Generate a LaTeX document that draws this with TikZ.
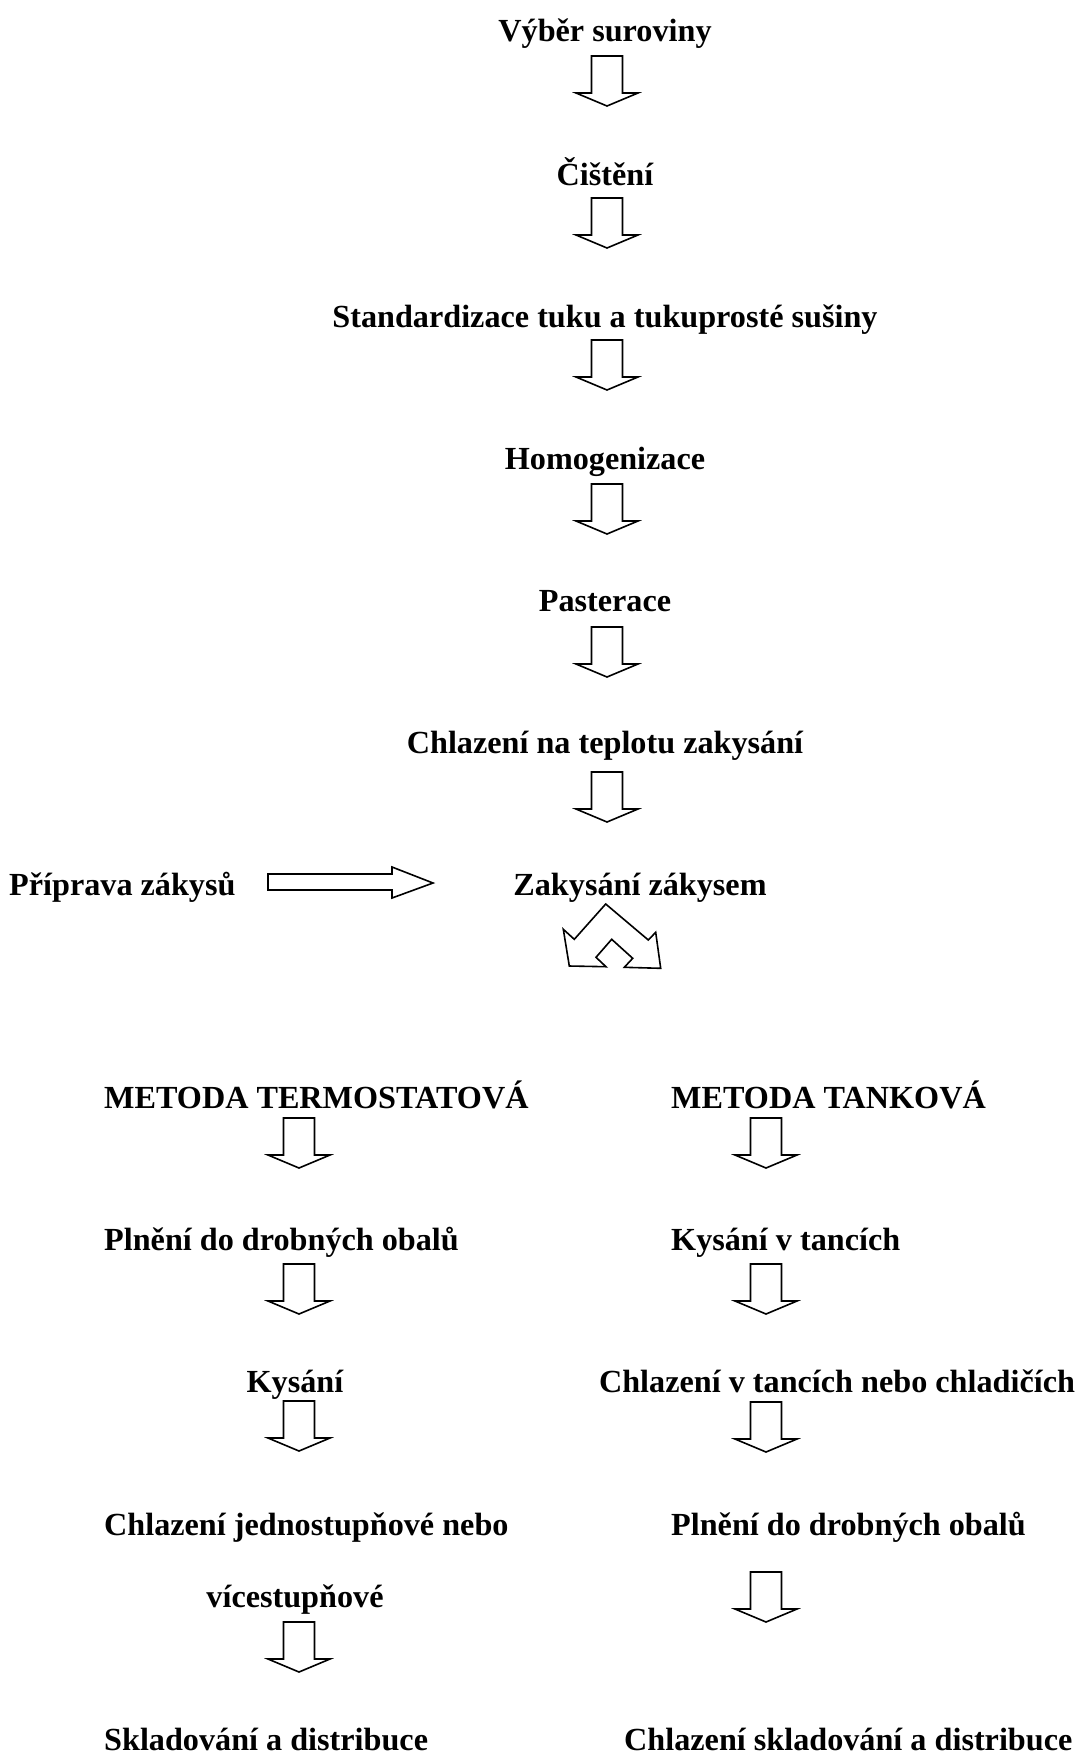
\documentclass[tikz,border=0pt]{standalone}
\usepackage{fontspec}
\setmainfont{Liberation Serif}[BoldFont={Liberation Serif Bold}]
\begin{document}
\begin{tikzpicture}[x=1pt,y=-1pt,
        krok/.style={anchor=base,inner sep=0pt,font=\bfseries\fontsize{32.2}{38}\selectfont},
        krokL/.style={krok,anchor=base west},
        blok/.style={draw,line width=1.6pt,line join=miter,fill=white},
        dolu/.pic={\draw[blok] (-15.5,0) -- (15.5,0) -- (15.5,37) -- (31,37) -- (0,50) -- (-31,37) -- (-15.5,37) -- cycle;}]
                \useasboundingbox (0,0) rectangle (1078,1754);
                % hlavni linka
                \node[krok] (vyber) at (605,41) {Výběr suroviny};
                \node[krok] (cisteni) at (605,185) {Čištění};
                \node[krok] (stand) at (605,327) {Standardizace tuku a tukuprosté sušiny};
                \node[krok] (homog) at (605,469) {Homogenizace};
                \node[krok] (paster) at (605,611) {Pasterace};
                \node[krok] (chlaz) at (605,753) {Chlazení na teplotu zakysání};
                \node[krokL] (priprava) at (9,895) {Příprava zákysů};
                \node[krok] (zakys) at (640,895) {Zakysání zákysem};
                \pic (s1) at (607,56) {dolu};
                \pic (s2) at (607,198) {dolu};
                \pic (s3) at (607,340) {dolu};
                \pic (s4) at (607,484) {dolu};
                \pic (s5) at (607,627) {dolu};
                \pic (s6) at (607,772) {dolu};
                \draw[blok] (268,874) -- (392,874) -- (392,867) -- (433,883) -- (392,898) -- (392,890) -- (268,890) -- cycle;
                % rozdeleni
                \draw[blok] (605.7,904) -- (648.3,940) -- (655.7,932.3) -- (660.7,968.3) -- (624.3,967.3) -- (632.7,958.3) -- (611.7,939.3) -- (596,957.3) -- (606,966.7) -- (569.3,966) -- (563.3,929.3) -- (574.3,939.3) -- cycle;
                % metoda termostatova
                \node[krokL] (term) at (104,1108) {METODA TERMOSTATOVÁ};
                \node[krokL] (plneniT) at (104,1250) {Plnění do drobných obalů};
                \node[krok] (kysani) at (295,1392) {Kysání};
                \node[krokL] (chlazT) at (104,1535) {Chlazení jednostupňové nebo};
                \node[krok] (chlazT2) at (295,1607) {vícestupňové};
                \node[krokL] (sklT) at (104,1750) {Skladování a distribuce};
                \pic (t1) at (299,1118) {dolu};
                \pic (t2) at (299,1264) {dolu};
                \pic (t3) at (299,1401) {dolu};
                \pic (t4) at (299,1622) {dolu};
                % metoda tankova
                \node[krokL] (tank) at (671,1108) {METODA TANKOVÁ};
                \node[krokL] (kysTank) at (671,1250) {Kysání v tancích};
                \node[krok] (chlazTank) at (837,1392) {Chlazení v tancích nebo chladičích};
                \node[krokL] (plneniTank) at (671,1535) {Plnění do drobných obalů};
                \node[krokL] (sklTank) at (624,1750) {Chlazení skladování a distribuce};
                \pic (k1) at (766,1118) {dolu};
                \pic (k2) at (766,1264) {dolu};
                \pic (k3) at (766,1402) {dolu};
                \pic (k4) at (766,1572) {dolu};
            \end{tikzpicture}
\end{document}
